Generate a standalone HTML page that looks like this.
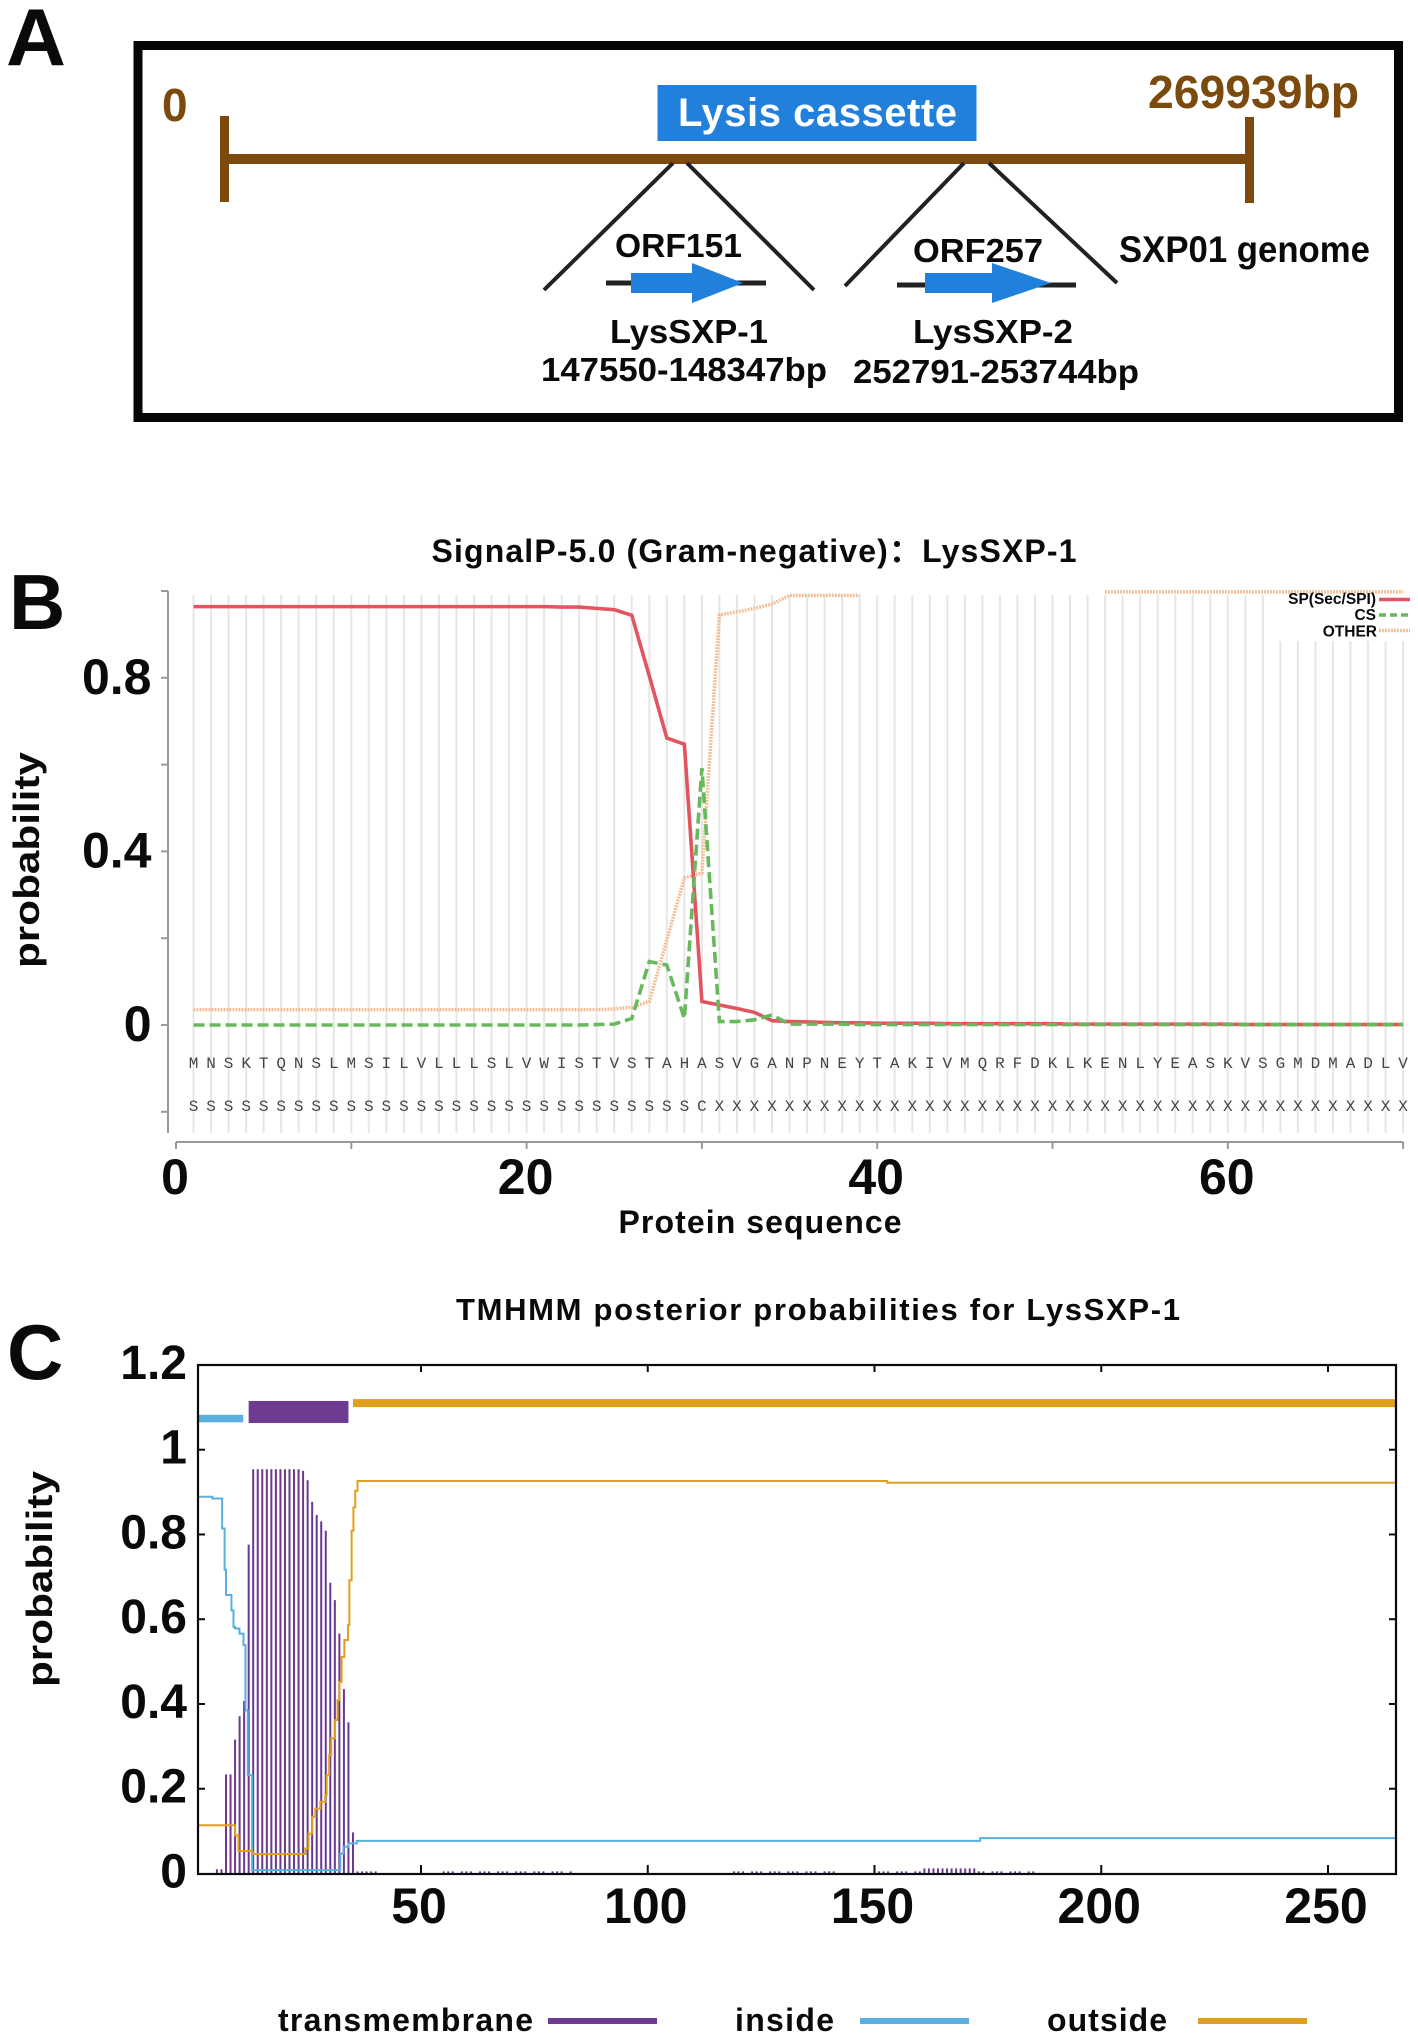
<!DOCTYPE html>
<html lang="en">
<head>
<meta charset="utf-8">
<title>SXP01 lysis cassette figure</title>
<style>
html,body{margin:0;padding:0;background:#fff;}
body{width:1418px;height:2038px;overflow:hidden;}
svg{display:block;}
text{font-family:"Liberation Sans","Noto Sans CJK SC",sans-serif;font-weight:700;fill:#0a0a0a;}
</style>
</head>
<body>
<svg id="fig" xmlns="http://www.w3.org/2000/svg" width="1418" height="2038" viewBox="0 0 1418 2038">
  <rect x="0" y="0" width="1418" height="2038" fill="#fff"/>

  <!-- Panel A -->
  <g id="panelA">
    <text x="6" y="65" font-size="81" textLength="60" lengthAdjust="spacingAndGlyphs">A</text>
    <rect x="138" y="45.5" width="1260.5" height="372" fill="none" stroke="#050505" stroke-width="9"/>
    <rect x="224" y="154" width="1025" height="10" fill="#7b4a0c"/>
    <rect x="220" y="116" width="9" height="86" fill="#7b4a0c"/>
    <rect x="1245" y="117" width="9" height="86" fill="#7b4a0c"/>
    <text x="162" y="121" font-size="46" style="fill:#7b4a0c">0</text>
    <text x="1148" y="108" font-size="46" textLength="211" lengthAdjust="spacingAndGlyphs" style="fill:#7b4a0c">269939bp</text>
    <rect x="657.5" y="85" width="319" height="56" fill="#2080dc"/>
    <text x="678" y="126" font-size="40" textLength="279" lengthAdjust="spacing" style="fill:#fff">Lysis cassette</text>
    <line x1="673" y1="163" x2="544" y2="290" stroke="#222" stroke-width="4"/>
    <line x1="687" y1="163" x2="814" y2="290" stroke="#222" stroke-width="4"/>
    <line x1="964" y1="163" x2="845" y2="286" stroke="#222" stroke-width="4"/>
    <line x1="989" y1="163" x2="1117" y2="283" stroke="#222" stroke-width="4"/>
    <text x="615" y="257" font-size="33" textLength="127" lengthAdjust="spacingAndGlyphs">ORF151</text>
    <text x="913" y="262" font-size="33" textLength="130" lengthAdjust="spacingAndGlyphs">ORF257</text>
    <text x="1119" y="262" font-size="37" textLength="251" lengthAdjust="spacingAndGlyphs">SXP01 genome</text>
    <line x1="606" y1="283" x2="766" y2="283" stroke="#222" stroke-width="5"/>
    <polygon points="631,273 692,273 692,263 743,283 692,303 692,293 631,293" fill="#2080dc"/>
    <line x1="897" y1="285" x2="1076" y2="285" stroke="#222" stroke-width="5"/>
    <polygon points="925,273 992,273 992,263 1051,283 992,303 992,293 925,293" fill="#2080dc"/>
    <text x="610" y="343" font-size="33" textLength="158" lengthAdjust="spacingAndGlyphs">LysSXP-1</text>
    <text x="541" y="381" font-size="33" textLength="286" lengthAdjust="spacingAndGlyphs">147550-148347bp</text>
    <text x="913" y="343" font-size="33" textLength="160" lengthAdjust="spacingAndGlyphs">LysSXP-2</text>
    <text x="853" y="383" font-size="33" textLength="286" lengthAdjust="spacingAndGlyphs">252791-253744bp</text>
  </g>

  <!-- Panel B -->
  <g id="panelB">
    <text x="9" y="629" font-size="78">B</text>
    <text x="431.5" y="562" font-size="32" textLength="645" lengthAdjust="spacing">SignalP-5.0 (Gram-negative)：LysSXP-1</text>
    <text transform="translate(39,968) rotate(-90)" x="0" y="0" font-size="36" textLength="216" lengthAdjust="spacingAndGlyphs">probability</text>
    <text x="618.5" y="1233" font-size="32" textLength="283" lengthAdjust="spacing">Protein sequence</text>
  </g>

  <!-- Panel C -->
  <g id="panelC">
    <text x="7" y="1379" font-size="78">C</text>
    <text x="456" y="1320" font-size="31" textLength="724" lengthAdjust="spacing">TMHMM posterior probabilities for LysSXP-1</text>
    <text transform="translate(52,1687) rotate(-90)" x="0" y="0" font-size="36" textLength="216" lengthAdjust="spacingAndGlyphs">probability</text>
    <text x="278" y="2031" font-size="32" textLength="255" lengthAdjust="spacing">transmembrane</text>
    <rect x="548" y="2018" width="109" height="6" fill="#6f3a91"/>
    <text x="735" y="2031" font-size="32" textLength="99" lengthAdjust="spacing">inside</text>
    <rect x="860" y="2018" width="109" height="6" fill="#58afe0"/>
    <text x="1047" y="2031" font-size="32" textLength="120" lengthAdjust="spacing">outside</text>
    <rect x="1198" y="2018" width="109" height="6" fill="#e0a01e"/>
  </g>

<script>
// ---------- Panel B data ----------
const residueSequence = ["M","N","S","K","T","Q","N","S","L","M","S","I","L","V","L","L","L","S","L","V","W","I","S","T","V","S","T","A","H","A","S","V","G","A","N","P","N","E","Y","T","A","K","I","V","M","Q","R","F","D","K","L","K","E","N","L","Y","E","A","S","K","V","S","G","M","D","M","A","D","L","V"];
const residueStates = ["S","S","S","S","S","S","S","S","S","S","S","S","S","S","S","S","S","S","S","S","S","S","S","S","S","S","S","S","S","C","X","X","X","X","X","X","X","X","X","X","X","X","X","X","X","X","X","X","X","X","X","X","X","X","X","X","X","X","X","X","X","X","X","X","X","X","X","X","X","X"];
const spValues = [0.964,0.964,0.964,0.964,0.964,0.964,0.964,0.964,0.964,0.964,0.964,0.964,0.964,0.964,0.964,0.964,0.964,0.964,0.964,0.964,0.964,0.963,0.963,0.960,0.957,0.944,0.804,0.661,0.647,0.054,0.046,0.038,0.029,0.010,0.008,0.007,0.006,0.005,0.005,0.004,0.004,0.004,0.004,0.003,0.003,0.003,0.003,0.003,0.003,0.003,0.002,0.002,0.002,0.002,0.002,0.002,0.002,0.002,0.002,0.002,0.001,0.001,0.001,0.001,0.001,0.001,0.001,0.001,0.001,0.001];
const csValues = [0,0,0,0,0,0,0,0,0,0,0,0,0,0,0,0,0,0,0,0,0,0,0,0.001,0.002,0.015,0.146,0.138,0.015,0.592,0.008,0.008,0.012,0.023,0.002,0.002,0.002,0.002,0.001,0.001,0.001,0.001,0.001,0.001,0.001,0.001,0.001,0.001,0.001,0.001,0.001,0.001,0.001,0.001,0.001,0.001,0.001,0.001,0.001,0.001,0.001,0.001,0.001,0.001,0.001,0.001,0.001,0.001,0.001,0.001];
const otherValues = [0.035,0.035,0.035,0.035,0.035,0.035,0.035,0.035,0.035,0.035,0.035,0.035,0.035,0.035,0.035,0.035,0.035,0.035,0.035,0.035,0.035,0.035,0.035,0.035,0.037,0.041,0.054,0.196,0.339,0.350,0.945,0.952,0.960,0.970,0.990,0.990,0.990,0.990,0.990,null,null,null,null,null,null,null,null,null,null,null,null,null,0.998,0.998,0.998,0.998,0.998,0.998,0.998,0.998,0.998,0.998,0.998,0.998,0.998,0.998,0.998,0.998,0.998,0.998];
const signalYTicks = [1,0.8,0.6,0.4,0.2,0,-0.2];
const signalYLabels = ["0.8","0.4","0"];
const signalYLabelValues = [0.8,0.4,0];
const signalXTicks = [0,10,20,30,40,50,60,70];
const signalXLabels = [0,20,40,60];

// ---------- Panel C data ----------
const tmValues = [
0,0,0,0,0.01,0.01,0.234,0.234,0.316,0.371,
0.407,0.776,0.954,0.954,0.954,0.954,0.954,0.954,0.954,0.954,
0.954,0.954,0.954,0.95,0.928,0.877,0.846,0.831,0.809,0.686,
0.645,0.566,0.435,0.357,0.097,0.005,0.005,0.005,0.005,0.005,
0,0,0,0,0,0,0,0,0,0,
0,0,0,0,0.005,0.005,0.005,0,0.005,0.005,
0.005,0,0.005,0.005,0.005,0,0.005,0.005,0.005,0,
0.005,0.005,0.005,0,0.005,0.005,0.005,0,0.005,0.005,
0.005,0,0.005,0,0,0,0,0,0,0,
0,0,0,0,0,0,0,0,0,0,
0,0,0,0,0,0,0,0,0,0,
0,0,0,0,0,0,0,0,0.005,0.005,
0.005,0,0.005,0.005,0.005,0,0.005,0.005,0.005,0,
0.005,0.005,0.005,0,0.005,0.005,0.005,0,0.005,0.005,
0.005,0,0,0,0,0,0,0,0,0,
0.005,0.005,0.005,0,0.005,0.005,0.005,0,0.005,0.005,
0.012,0.012,0.012,0.012,0.012,0.012,0.012,0.012,0.012,0.012,
0.012,0.012,0.005,0.005,0,0.005,0.005,0.005,0,0.005,
0.005,0.005,0,0.005,0.005,0,0,0,0,0,
0,0,0,0,0,0,0,0,0,0,
0,0,0,0,0,0,0,0,0,0,
0,0,0,0,0,0,0,0,0,0,
0,0,0,0,0,0,0,0,0,0,
0,0,0,0,0,0,0,0,0,0,
0,0,0,0,0,0,0,0,0,0,
0,0,0,0,0,0,0,0,0,0,
0,0,0,0,0];
const insideResidues = [1,4,6.15,6.7,7,8.2,8.65,9,9.97,10.85,11.3,11.8,12.76,32.2,32.9,34,35.85,173.3,265];
const insideValues = [0.889,0.885,0.814,0.717,0.657,0.621,0.582,0.578,0.566,0.539,0.385,0.232,0.008,0.047,0.063,0.071,0.077,0.0835,0.0835];
const outsideResidues = [1,9,9.75,12.7,13,24.5,25.2,26,26.7,27.8,28.9,29.2,29.75,30.2,31,31.6,32,32.5,33.1,33.9,34.2,34.7,35.1,35.5,36,152.8,265];
const outsideValues = [0.114,0.09,0.053,0.049,0.046,0.059,0.094,0.134,0.153,0.169,0.185,0.232,0.279,0.319,0.362,0.409,0.452,0.511,0.551,0.586,0.692,0.809,0.864,0.903,0.926,0.922,0.922];
const topologyNames = ["inside","transmembrane","outside"];
const topologyStarts = [1,12,35];
const topologyEnds = [10.8,34,265];
const topologyLevels = [1.0735,1.089,1.11];
const tmhmmYTicks = [1.2,1,0.8,0.6,0.4,0.2,0];
const tmhmmYLabels = ["1.2","1","0.8","0.6","0.4","0.2","0"];
const tmhmmXTicks = [50,100,150,200,250];

// ---------- Axis functions ----------
function bx(v){ return 176 + 17.53 * v; }
function by(p){ return 1025 - 434 * p; }
function cx(v){ return 421 + (v - 50) * 4.535; }
function cy(p){ return 1873.5 - 423.8 * p; }

const NS = "http://www.w3.org/2000/svg";
function make(parent, tag, attrs, txt){
  const n = document.createElementNS(NS, tag);
  for (const k in attrs) n.setAttribute(k, attrs[k]);
  if (txt !== undefined) n.textContent = txt;
  parent.appendChild(n);
  return n;
}
function linePath(values, xf, yf){
  let d = "", pen = false;
  values.forEach(function(val, i){
    if (val === null) { pen = false; return; }
    d += (pen ? "L" : "M") + xf(i + 1).toFixed(2) + " " + yf(val).toFixed(2);
    pen = true;
  });
  return d;
}
function stepPath(res, vals, xf, yf){
  let d = "M" + xf(res[0]).toFixed(2) + " " + yf(vals[0]).toFixed(2);
  for (let i = 1; i < res.length; i++){
    d += "H" + xf(res[i]).toFixed(2) + "V" + yf(vals[i]).toFixed(2);
  }
  return d;
}

// ---------- Draw panel B ----------
const panelB = document.getElementById("panelB");
let el;
residueSequence.forEach(function(letter, i){
  const r = i + 1;
  el = make(panelB, "line", {x1: bx(r), x2: bx(r), y1: r >= 63 ? 641 : 595, y2: 1133, stroke: "#e6e6e6", "stroke-width": 2});
  
  
  el = make(panelB, "text", {x: bx(r), y: 1068, "font-size": 16, "text-anchor": "middle", style: 'font-family:"Liberation Mono",monospace;font-weight:400;fill:#444'}, letter);
  
  
  el = make(panelB, "text", {x: bx(r), y: 1111, "font-size": 16, "text-anchor": "middle", style: 'font-family:"Liberation Mono",monospace;font-weight:400;fill:#444'}, residueStates[i]);
  
  
});

el = make(panelB, "line", {x1: 168, x2: 168, y1: 591, y2: 1133, stroke: "#999", "stroke-width": 2});


signalYTicks.forEach(function(t){
  el = make(panelB, "line", {x1: 161, x2: 168, y1: by(t), y2: by(t), stroke: "#999", "stroke-width": 2});
  
  
});
signalYLabels.forEach(function(lab, i){
  el = make(panelB, "text", {x: 151.5, y: by(signalYLabelValues[i]) + 16, "font-size": 50, "text-anchor": "end"}, lab);
  
  
});
el = make(panelB, "line", {x1: bx(0), x2: bx(70), y1: 1142, y2: 1142, stroke: "#999", "stroke-width": 2});


signalXTicks.forEach(function(t){
  el = make(panelB, "line", {x1: bx(t), x2: bx(t), y1: 1142, y2: 1149, stroke: "#999", "stroke-width": 2});
  
  
});
signalXLabels.forEach(function(t){
  el = make(panelB, "text", {x: bx(t) - 1, y: 1194, "font-size": 50, "text-anchor": "middle"}, String(t));
  
  
});

el = make(panelB, "path", {d: linePath(otherValues, bx, by), fill: "none", stroke: "#f5bb90", "stroke-width": 3.5, "stroke-dasharray": "1.8 1.2"});


el = make(panelB, "path", {d: linePath(spValues, bx, by), fill: "none", stroke: "#e2555f", "stroke-width": 3.6});


el = make(panelB, "path", {d: linePath(csValues, bx, by), fill: "none", stroke: "#68b85c", "stroke-width": 3.6, "stroke-dasharray": "11 5"});



// legend B
el = make(panelB, "text", {x: 1376, y: 604, "font-size": 15.5, "text-anchor": "end"}, "SP(Sec/SPI)");


el = make(panelB, "line", {x1: 1379, x2: 1410, y1: 599.5, y2: 599.5, stroke: "#e2555f", "stroke-width": 3.6});


el = make(panelB, "text", {x: 1376, y: 620, "font-size": 15.5, "text-anchor": "end"}, "CS");


el = make(panelB, "line", {x1: 1379, x2: 1410, y1: 615, y2: 615, stroke: "#68b85c", "stroke-width": 3.6, "stroke-dasharray": "7 4"});


el = make(panelB, "text", {x: 1377, y: 636.5, "font-size": 15.5, "text-anchor": "end"}, "OTHER");


el = make(panelB, "line", {x1: 1379, x2: 1410, y1: 630.5, y2: 630.5, stroke: "#f5bb90", "stroke-width": 3.5, "stroke-dasharray": "1.8 1.2"});



// ---------- Draw panel C ----------
const panelC = document.getElementById("panelC");
tmValues.forEach(function(val, i){
  if (val <= 0) return;
  el = make(panelC, "line", {x1: cx(i + 1), x2: cx(i + 1), y1: cy(0), y2: cy(val), stroke: "#6a3791", "stroke-width": 2});
  
  
});
el = make(panelC, "path", {d: stepPath(insideResidues, insideValues, cx, cy), fill: "none", stroke: "#58afe0", "stroke-width": 2});


el = make(panelC, "path", {d: stepPath(outsideResidues, outsideValues, cx, cy), fill: "none", stroke: "#e0a01e", "stroke-width": 2});



const topologyColors = {inside: "#58afe0", transmembrane: "#6f3a91", outside: "#e0a01e"};
const topologyThickness = {inside: 7.5, transmembrane: 22, outside: 8};
topologyNames.forEach(function(name, i){
  const h = topologyThickness[name];
  el = make(panelC, "rect", {x: cx(topologyStarts[i]), width: cx(topologyEnds[i]) - cx(topologyStarts[i]), y: cy(topologyLevels[i]) - h / 2, height: h, fill: topologyColors[name]});
  
  
});

el = make(panelC, "rect", {x: 198, y: 1365, width: 1198, height: 509, fill: "none", stroke: "#0a0a0a", "stroke-width": 2.2});


tmhmmYTicks.forEach(function(t, i){
  if (t !== 1.2 && t !== 0) {
    el = make(panelC, "line", {x1: 198, x2: 205, y1: cy(t), y2: cy(t), stroke: "#0a0a0a", "stroke-width": 2});
    
    
    el = make(panelC, "line", {x1: 1389, x2: 1396, y1: cy(t), y2: cy(t), stroke: "#0a0a0a", "stroke-width": 2});
    
    
  }
  el = make(panelC, "text", {x: 187, y: cy(t) + 14, "font-size": 48, "text-anchor": "end"}, tmhmmYLabels[i]);
  
  
});
tmhmmXTicks.forEach(function(t){
  el = make(panelC, "line", {x1: cx(t), x2: cx(t), y1: 1874, y2: 1865, stroke: "#0a0a0a", "stroke-width": 2});
  
  
  el = make(panelC, "line", {x1: cx(t), x2: cx(t), y1: 1365, y2: 1372, stroke: "#0a0a0a", "stroke-width": 2});
  
  
  el = make(panelC, "text", {x: cx(t) - 2, y: 1923, "font-size": 50, "text-anchor": "middle"}, String(t));
  
  
});
</script>
</svg>
</body>
</html>
